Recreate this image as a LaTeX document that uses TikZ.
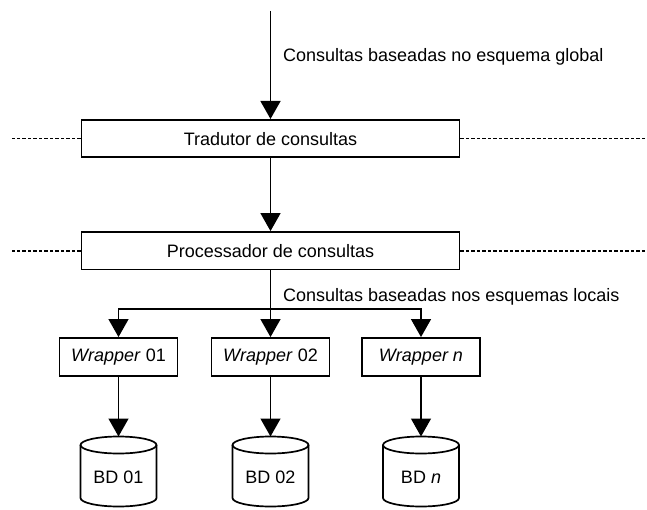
\documentclass[tikz,border=0pt]{standalone}
\usepackage{fontspec}
\setmainfont{Liberation Sans}
\usetikzlibrary{arrows.meta}
\begin{document}
\begin{tikzpicture}[x=1pt,y=-1pt,
  every node/.style={font=\fontsize{18}{21}\selectfont},
  box/.style={draw, line width=1.9pt, rectangle, inner sep=0pt},
  wide/.style={box, minimum width=378pt, minimum height=37.5pt},
  wrap/.style={box, minimum width=118pt, minimum height=38pt},
  flow/.style={line width=1.4pt, -{Triangle[width=20pt,length=18pt]}},
  link/.style={line width=1.4pt},
  sep/.style={line width=1.6pt, dash pattern=on 3.5pt off 2pt},
  dbline/.style={line width=1.7pt},
  caption/.style={anchor=base west, inner sep=0pt},
  dbtext/.style={inner sep=0pt}]
\useasboundingbox (0,0) rectangle (647,510);

% main processing chain
\node[wide] (trad) at (270.5,138.7) {Tradutor de consultas};
\node[wide] (proc) at (270.5,250.8) {Processador de consultas};

% wrappers
\node[wrap] (w1) at (118.5,357) {\textit{Wrapper} 01};
\node[wrap] (w2) at (270.5,357) {\textit{Wrapper} 02};
\node[wrap] (w3) at (421,357) {\textit{Wrapper n}};

% incoming queries
\coordinate (in) at (270.5,11);
\draw[flow] (in) -- (trad);
\node[caption] (capg) at (283,61.7) {Consultas baseadas no esquema global};

% layer separators
\coordinate (l1) at (12,138.7);
\coordinate (r1) at (647,138.7);
\coordinate (l2) at (12,250.8);
\coordinate (r2) at (647,250.8);
\draw[sep] (trad.west) -- (l1);
\draw[sep] (trad.east) -- (r1);
\draw[sep] (proc.west) -- (l2);
\draw[sep] (proc.east) -- (r2);

\draw[flow] (trad) -- (proc);

% distribution to the wrappers
\coordinate (split) at (270.5,309);
\draw[link] (proc.south) -- (split);
\draw[flow] (split) -- (w2);
\draw[flow] (split) -| (w1);
\draw[flow] (split) -| (w3);
\node[caption] (capl) at (283,301.2) {Consultas baseadas nos esquemas locais};

% databases
\foreach \cx/\nm/\lbl in {118.5/db1/{BD 01}, 270.5/db2/{BD 02}, 421/db3/{BD \textit{n}}}{
  \draw[dbline] (\cx-38,445) -- (\cx-38,498)
     arc[start angle=180, end angle=360, x radius=38pt, y radius=8.5pt]
     -- (\cx+38,445);
  \draw[dbline] (\cx,445) ellipse[x radius=38pt, y radius=8.5pt];
  \coordinate (\nm top) at (\cx,436.5);
  \node[dbtext] (\nm) at (\cx,477) {\lbl};
}
\draw[flow] (w1) -- (db1top);
\draw[flow] (w2) -- (db2top);
\draw[flow] (w3) -- (db3top);
\end{tikzpicture}
\end{document}
